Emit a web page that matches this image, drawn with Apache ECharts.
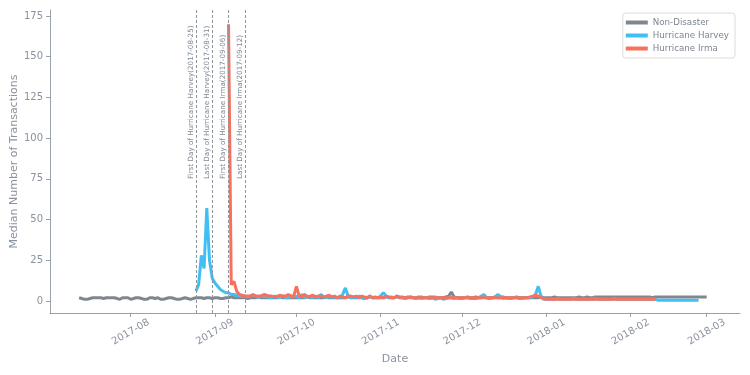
<!DOCTYPE html>
<html>
<head>
<meta charset="utf-8">
<script src="https://cdn.jsdelivr.net/npm/echarts@6/dist/echarts.min.js"></script>
<style>
html,body{margin:0;padding:0;background:#fff;}
#chart{width:750px;height:375px;}
</style>
</head>
<body>
<div id="chart"></div>
<script>
// ---- data ----
const seriesNames = ['Non-Disaster', 'Hurricane Harvey', 'Hurricane Irma'];
const nonDisasterStart = '2017-07-13';
const harveyStart = '2017-08-25';
const irmaStart = '2017-09-06';

const nonDisasterValues = [
  // Jul 13-31
  2,1.5,1,1,1.5,2,2,2,2,1.5,2,2,2,2,1.5,1,2,2,2,
  // Aug
  1,1.5,2,2,1.5,1,1,2,2,1.5,2,1,1,1.5,2,2,1.5,1,1,1.5,2,1.5,1,1.5,2,2,2,1.5,2,2,1.5,
  // Sep
  2,2,1.5,1.5,2,2,2.5,2,2,2,2,2,1.5,2,2,2,2.5,2,2,2,2,2,2,2,2.5,2,2,2,2,2,
  // Oct
  2,2,2,2,2.5,2,2,2,2,2,2,2.5,2,2,2,2,2,2,2,2.5,2,2,2,2,2,2,2,2.5,2,2,2,
  // Nov
  2,2,2.5,2,2,2,2.5,2.5,2,2,2.5,2,2,2,2.5,2,2,2,2.5,2.5,2,2,2,2,2.5,3,5.5,2.5,2,2,
  // Dec
  2,2,2.5,2,2,2.5,2,2,2.5,2,2,2,2.5,2,2,2.5,2,2,2,2,2.5,2,2,2,2,2,2,2,2,2.5,2,
  // Jan
  2,2,2,2.5,2,2,2,2,2,2,2,2,2.5,2,2,2.5,2,2,2.5,2.5,2.5,2.5,2.5,2.5,2.5,2.5,2.5,2.5,2.5,2.5,2.5,
  // Feb
  2.5,2.5,2.5,2.5,2.5,2.5,2.5,2.5,2,2.5,2.5,2.5,2.5,2.5,2.5,2.5,2.5,2.5,2.5,2.5,2.5,2.5,2.5,2.5,2.5,2.5,2.5,2.5,
  // Mar 1
  2.5
];

const harveyValues = [
  // Aug 25-31
  6,10,28,20,57,25,14,
  // Sep
  11,9,7,6,5,5,4,4,3.5,3,3,3,2.5,3,3.5,3,2,3,2.5,3,2,2,3,2,2.5,3,2,2,3,2.5,
  // Oct
  3,2,4,2,3,2.5,2,3,2,4,2.5,2,3,2,2.5,2,2,4,8,3,2,2.5,2,3,2,1.5,2,3,2,2,2,
  // Nov
  3,5,3,2,2.5,2,3,2,2,1.5,2,2.5,2,1.5,2,1.5,2,2,1.5,2,1,1.5,2,1,1.5,2,2,1.5,2,1.5,
  // Dec
  1.5,2,2,1.5,1.5,1.5,2,3,4,2,1.5,2,2,4,3,1.5,2,1.5,1.5,2,2,1.5,1.5,2,2,2,2.5,4,9,3,1,
  // Jan
  1,1,1,1,1.5,1,1,1,1,1,1.5,1,1,1,1,1,1,1,1.5,1,1,1,1,1,1,1.5,1,1,1,1,1,
  // Feb 1-26
  1,1,1,1,1,1,1,1,1,1,0.5,0.5,0.5,0.5,0.5,0.5,0.5,0.5,0.5,0.5,0.5,0.5,0.5,0.5,0.5,0.5
];

const irmaValues = [
  // Sep 6-30
  170,10,12,6,4,3.5,3,3,3,4,3,3,3,4,3.5,3,3,2.5,3,3.5,3,3,4,3,3,
  // Oct
  9,3,3,4,2.5,3,3.5,2.5,3,3,2.5,3,3.5,2.5,3,2,3,2.5,2,3,3,2.5,3,2,3,2.5,2,3,2,2.5,2,
  // Nov
  2.5,2,3,2.5,2,2,3,2,2.5,2,2,2.5,2,2,2,2.5,2,2,2,2,2.5,2,2,2,2,2,2,2,2,2,
  // Dec
  2,2,2,2,2,2,2,2,2,2,2,2,2,2,2,2,2,2,2,2,2,2,2,2,2,2.5,3,3.5,3,2,1.5,
  // Jan
  1,1,1,1,1,1,1,1,1,1,1,1,1,1,1,1,1,1,1,1,1,1,1,1,1,1,1,1,1,1,1,
  // Feb 1-10
  1,1,1,1,1,1,1,1,1,1
];

const eventDates = ['2017-08-25', '2017-08-31', '2017-09-06', '2017-09-12'];
const eventLabels = [
  'First Day of Hurricane Harvey(2017-08-25)',
  'Last Day of Hurricane Harvey(2017-08-31)',
  'First Day of Hurricane Irma(2017-09-06)',
  'Last Day of Hurricane Irma(2017-09-12)'
];
const monthTicks = ['2017-08-01','2017-09-01','2017-10-01','2017-11-01','2017-12-01','2018-01-01','2018-02-01','2018-03-01'];
const yTicks = [0,25,50,75,100,125,150,175];

// ---- helpers ----
const DAY = 86400000;
function ts(s){ const p = s.split('-').map(Number); return Date.UTC(p[0], p[1]-1, p[2]); }
function build(start, vals){ const t0 = ts(start); return vals.map((v,i)=>[t0 + i*DAY, v]); }
function fmtMonth(v){ const d = new Date(v); const m = d.getUTCMonth()+1; return d.getUTCFullYear() + '-' + (m<10?'0':'') + m; }

const textColor = '#8a929e';
const axisColor = '#9aa1aa';
const colors = ['#80868e', '#41bff3', '#f7715d'];

const markLineData = [];
eventDates.forEach((d, i) => {
  markLineData.push({ xAxis: ts(d), label: { show: false } });
  markLineData.push([
    { coord: [ts(d), 74], lineStyle: { color: 'rgba(0,0,0,0)', opacity: 1 },
      label: { show: true, position: 'insideStartTop', formatter: eventLabels[i], opacity: 1,
               fontSize: 7.2, color: '#7f8894', distance: 1.5, fontFamily: 'DejaVu Sans' } },
    { coord: [ts(d), 178.5] }
  ]);
});

const chart = echarts.init(document.getElementById('chart'), null, { renderer: 'canvas' });
chart.setOption({
  animation: false,
  backgroundColor: '#ffffff',
  textStyle: { fontFamily: 'DejaVu Sans' },
  grid: { left: 50, right: 10, top: 10, bottom: 62, containLabel: false, outerBoundsMode: 'none' },
  legend: {
    orient: 'vertical', right: 15, top: 13,
    data: seriesNames,
    icon: 'rect', itemWidth: 22, itemHeight: 4, itemGap: 2,
    padding: [4, 6, 4, 3],
    borderColor: '#dcdcdc', borderWidth: 1, borderRadius: 3,
    backgroundColor: '#ffffff',
    textStyle: { color: '#7d8591', fontSize: 8.7, lineHeight: 11, fontFamily: 'DejaVu Sans' }
  },
  xAxis: {
    type: 'value',
    min: ts('2017-07-02') + 7 * 3600000,
    max: ts('2018-03-13') + 6 * 3600000,
    name: 'Date', nameLocation: 'middle', nameGap: 36,
    nameTextStyle: { color: textColor, fontSize: 11, fontFamily: 'DejaVu Sans' },
    axisLine: { show: true, onZero: false, lineStyle: { color: axisColor, width: 1 } },
    axisTick: { show: true, length: 4, lineStyle: { color: axisColor }, customValues: monthTicks.map(ts) },
    axisLabel: {
      customValues: monthTicks.map(ts),
      formatter: fmtMonth, rotate: 30, align: 'center', verticalAlign: 'middle',
      margin: 19, color: textColor, fontSize: 10, fontFamily: 'DejaVu Sans'
    },
    splitLine: { show: false }
  },
  yAxis: {
    type: 'value', min: -7.4, max: 178.7,
    name: 'Median Number of Transactions', nameLocation: 'middle', nameGap: 30, nameMoveOverlap: false,
    nameTextStyle: { color: textColor, fontSize: 11, fontFamily: 'DejaVu Sans' },
    axisLine: { show: true, onZero: false, lineStyle: { color: axisColor, width: 1 } },
    axisTick: { show: true, length: 4, lineStyle: { color: axisColor }, customValues: yTicks },
    axisLabel: { customValues: yTicks, color: textColor, fontSize: 10, margin: 7, fontFamily: 'DejaVu Sans' },
    splitLine: { show: false }
  },
  series: [
    {
      name: seriesNames[0], type: 'line', data: build(nonDisasterStart, nonDisasterValues),
      showSymbol: false, symbol: 'none', lineStyle: { color: colors[0], width: 3 }, itemStyle: { color: colors[0] },
      markLine: {
        silent: true, symbol: ['none', 'none'],
        lineStyle: { color: '#8f959c', width: 1, type: [3, 2] },
        data: markLineData
      }
    },
    {
      name: seriesNames[1], type: 'line', data: build(harveyStart, harveyValues),
      showSymbol: false, symbol: 'none', lineStyle: { color: colors[1], width: 3 }, itemStyle: { color: colors[1] }
    },
    {
      name: seriesNames[2], type: 'line', data: build(irmaStart, irmaValues),
      showSymbol: false, symbol: 'none', lineStyle: { color: colors[2], width: 3 }, itemStyle: { color: colors[2] }
    }
  ]
});
</script>
</body>
</html>
